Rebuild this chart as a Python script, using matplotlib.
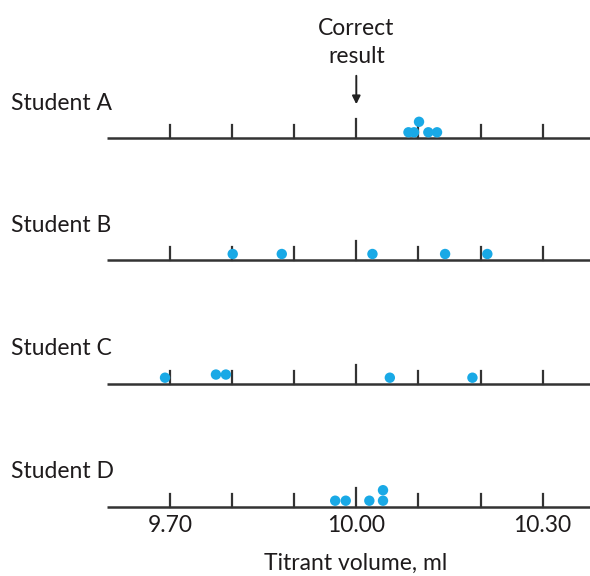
# Dot plots of titration results for four students
import numpy as np
import matplotlib.pyplot as plt

plt.rcParams['font.family'] = ['Lato', 'DejaVu Sans']

# ------------------------------
# Data (titrant volume, ml)
# ------------------------------
students = ["Student A", "Student B", "Student C", "Student D"]
results_a = [10.084, 10.093, 10.101, 10.116, 10.130]
results_b = [9.801, 9.880, 10.026, 10.143, 10.211]
results_c = [9.692, 9.774, 9.790, 10.054, 10.187]
results_d = [9.966, 9.983, 10.021, 10.043, 10.043]
# stack level of each dot (1 = sits on top of a neighbour)
stack_a = [0, 0, 1, 0, 0]
stack_b = [0, 0, 0, 0, 0]
stack_c = [0, 0.3, 0.3, 0, 0]
stack_d = [0, 0, 0, 0, 1]
correct_value = 10.00
tick_values = [9.70, 9.80, 9.90, 10.00, 10.10, 10.20, 10.30]
labelled_ticks = ["9.70", "10.00", "10.30"]

all_results = [results_a, results_b, results_c, results_d]
all_stacks = [stack_a, stack_b, stack_c, stack_d]

# ------------------------------
# Figure: one axes over the whole canvas, y in pixel-like units
# ------------------------------
fig = plt.figure(figsize=(5.9, 5.76), dpi=100)
ax = fig.add_axes([0, 0, 1, 1])
px_per_unit = 621.0
ax.set_xlim(9.70 - 170 / px_per_unit, 9.70 + 420 / px_per_unit)
ax.set_ylim(576, 0)
ax.axis("off")

dot_color = "#19a9e6"
line_color = "#333333"
text_color = "#1e1b1c"
fs = 16.5
row_base = [138.3, 260.0, 383.7, 506.7]
x_start = 9.70 - 63 / px_per_unit

for i, name in enumerate(students):
    y0 = row_base[i]
    ax.plot([x_start, ax.get_xlim()[1]], [y0, y0], color=line_color, lw=1.8,
            solid_capstyle="butt", zorder=1)
    for t in tick_values:
        h = 19 if t == correct_value else 13
        ax.plot([t, t], [y0, y0 - h], color=line_color, lw=1.6, zorder=1)
    ys = [y0 - 6 - 10.5 * s for s in all_stacks[i]]
    ax.scatter(all_results[i], ys, s=56, color=dot_color, edgecolors="none", zorder=3)
    ax.text(9.70 - 159 / px_per_unit, y0 - 28.5, name, fontsize=fs,
            ha="left", va="baseline", color=text_color)

# Correct result arrow
ax.text(correct_value, 35, "Correct", fontsize=fs, ha="center",
        va="baseline", color=text_color)
ax.text(correct_value, 63, "result", fontsize=fs, ha="center",
        va="baseline", color=text_color)
ax.annotate("", xy=(correct_value, 107), xytext=(correct_value, 73),
            arrowprops=dict(arrowstyle="-|>", color="#222222", lw=1.4,
                            mutation_scale=12))

# x tick labels and axis label
for lab in labelled_ticks:
    ax.text(float(lab), 532, lab, fontsize=fs, ha="center", va="baseline",
            color=text_color)
ax.text(9.9985, 570, "Titrant volume, ml", fontsize=fs, ha="center",
        va="baseline", color=text_color)

fig.savefig("out.png", dpi=100)
